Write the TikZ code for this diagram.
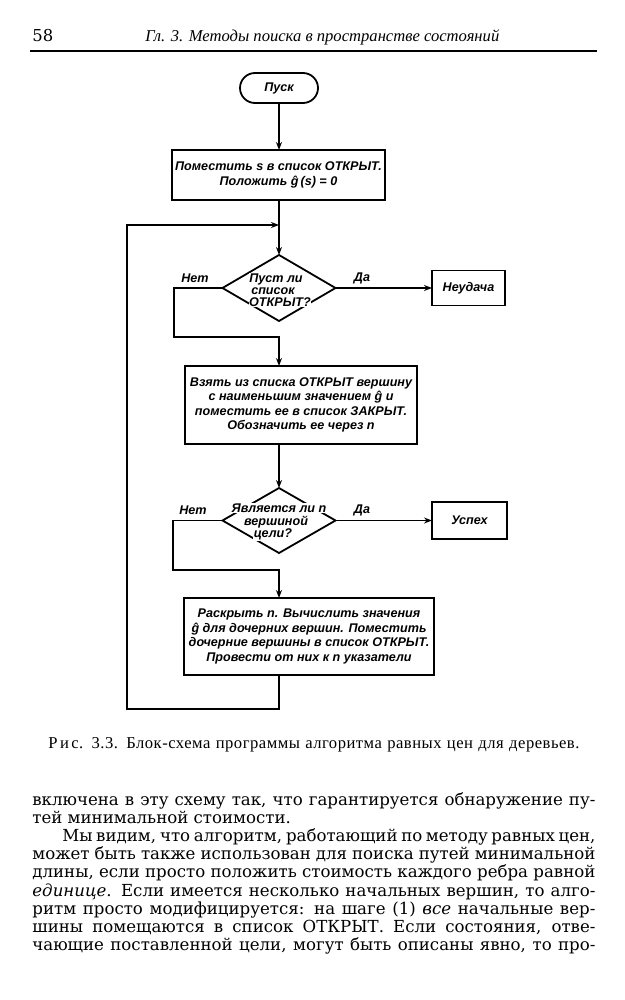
\documentclass[tikz,border=0pt]{standalone}
\usepackage{fontspec}
\setmainfont{DejaVu Serif}
\newfontfamily\bodyfont{DejaVu Serif}
\newfontfamily\capfont[LetterSpace=3]{Liberation Serif}
\newfontfamily\headfont{Liberation Serif}
\newfontfamily\chartfont{Liberation Sans}
\usetikzlibrary{arrows.meta,shapes.geometric,calc}
\newcommand\jl[2]{\makebox[#1][s]{#2}}
\tikzset{
  chart/.style={font=\chartfont\bfseries\itshape\fontsize{6.3}{7.2}\selectfont},
  procbox/.style={draw, line width=0.9pt, chart, align=center, inner sep=0pt, outer sep=0pt},
  termbox/.style={draw, line width=0.9pt, chart, rounded corners=7.5pt, inner sep=0pt, outer sep=0pt, minimum width=39pt, minimum height=15pt},
  decbox/.style={draw, diamond, line width=0.9pt, inner sep=0pt, outer sep=0pt},
  dtext/.style={chart, fill=white, inner sep=0.3pt, anchor=base},
  lbl/.style={chart, inner sep=0pt},
  flow/.style={line width=0.8pt},
  arr/.style={flow, -{Stealth[length=4pt,width=3pt]}},
  bodyline/.style={anchor=base west, inner sep=0pt, font=\bodyfont\fontsize{8.3}{9.1}\selectfont},
  plain/.style={anchor=base west, inner sep=0pt},
}
\begin{document}
\begin{tikzpicture}[x=0.5pt,y=-0.5pt]
\fill[white] (0,0) rectangle (625,1000);
\useasboundingbox (0,0) rectangle (625,1000);

% header
\node[plain, font=\bodyfont\fontsize{8.2}{10}\selectfont] (pg) at (32,42) {58};
\node[plain, font=\headfont\itshape\fontsize{8.3}{10}\selectfont] (ttl) at (145,42) {Гл. 3. Методы поиска в пространстве состояний};
\coordinate (rl) at (30,51);
\coordinate (rr) at (597,51);
\draw[line width=0.8pt] (rl) -- (rr);

% flowchart nodes
\node[termbox] (start) at (279,88) {Пуск};
\node[procbox, minimum width=106.5pt, minimum height=25pt, font=\chartfont\bfseries\itshape\fontsize{6.3}{7.5}\selectfont] (b1) at (278.5,175) {Поместить s в список ОТКРЫТ.\\ Положить ĝ\,(s) = 0};
\node[decbox, minimum width=56.5pt, minimum height=33pt] (d1) at (279,288) {};
\node[procbox, minimum width=36.5pt, minimum height=17.5pt] (fail) at (468.5,288) {Неудача};
\node[procbox, minimum width=116pt, minimum height=39pt] (b2) at (301,405) {Взять из списка ОТКРЫТ вершину\\ с наименьшим значением ĝ и\\ поместить ее в список ЗАКРЫТ.\\ Обозначить ее через n};
\node[decbox, minimum width=56.5pt, minimum height=32.5pt] (d2) at (279,520.5) {};
\node[procbox, minimum width=37.5pt, minimum height=18.5pt] (succ) at (469.5,520.5) {Успех};
\node[procbox, minimum width=125pt, minimum height=38.5pt] (b3) at (309,636.5) {Раскрыть n. Вычислить значения\\ ĝ для дочерних вершин. Поместить\\ дочерние вершины в список ОТКРЫТ.\\ Провести от них к n указатели};

% diamond texts
\node[dtext] (t1a) at (276,282.5) {Пуст ли};
\node[dtext] (t1b) at (273,294.5) {список};
\node[dtext] (t1c) at (280,306.5) {ОТКРЫТ?};
\node[dtext] (t2a) at (279,512.5) {Является ли n};
\node[dtext] (t2b) at (276,525) {вершиной};
\node[dtext] (t2c) at (273,537.5) {цели?};

% labels
\node[lbl] (no1) at (195,278) {Нет};
\node[lbl] (yes1) at (362,278) {Да};
\node[lbl] (no2) at (193,510) {Нет};
\node[lbl] (yes2) at (362,510) {Да};

% connector corners
\coordinate (n1) at (174,337);
\coordinate (n2) at (173,570);
\coordinate (lb) at (127,709);
\coordinate (lt) at (127,225);

% connectors
\draw[arr] (start.south) -- (start.south |- b1.north);
\draw[arr] (b1.south -| d1.north) -- (d1.north);
\draw[arr] (d1.east) -- (fail.west);
\draw[arr] (d1.west) -| (n1) -- (n1 -| d1.south) -- (b2.north -| d1.south);
\draw[arr] (b2.south -| d2.north) -- (d2.north);
\draw[arr] (d2.east) -- (succ.west);
\draw[arr] (d2.west) -| (n2) -- (n2 -| d2.south) -- (b3.north -| d2.south);
\draw[arr] (b3.south -| d2.south) |- (lb) -- (lt) -- (lt -| d1.north);

% caption
\node[plain, font=\capfont\fontsize{8.3}{9}\selectfont] (cap) at (48,748) {\jl{265.5pt}{Р\hspace{1.2pt}и\hspace{1.2pt}с. 3.3. Блок-схема программы алгоритма равных цен для деревьев.}};

% body text
\node[bodyline] (l1) at (32,805) {\jl{281.5pt}{включена в эту схему так, что гарантируется обнаружение пу-}};
\node[bodyline] (l2) at (32,823.2) {тей минимальной стоимости.};
\node[bodyline] (l3) at (62,841.4) {\jl{266.5pt}{Мы видим, что алгоритм, работающий по методу равных цен,}};
\node[bodyline] (l4) at (32,859.6) {\jl{281.5pt}{может быть также использован для поиска путей минимальной}};
\node[bodyline] (l5) at (32,877.8) {\jl{281.5pt}{длины, если просто положить стоимость каждого ребра равной}};
\node[bodyline] (l6) at (32,896) {\jl{281.5pt}{\textit{единице}. Если имеется несколько начальных вершин, то алго-}};
\node[bodyline] (l7) at (32,914.2) {\jl{281.5pt}{ритм просто модифицируется: на шаге (1) \textit{все} начальные вер-}};
\node[bodyline] (l8) at (32,932.4) {\jl{281.5pt}{шины помещаются в список ОТКРЫТ. Если состояния, отве-}};
\node[bodyline] (l9) at (32,950.6) {\jl{281.5pt}{чающие поставленной цели, могут быть описаны явно, то про-}};
\end{tikzpicture}
\end{document}
